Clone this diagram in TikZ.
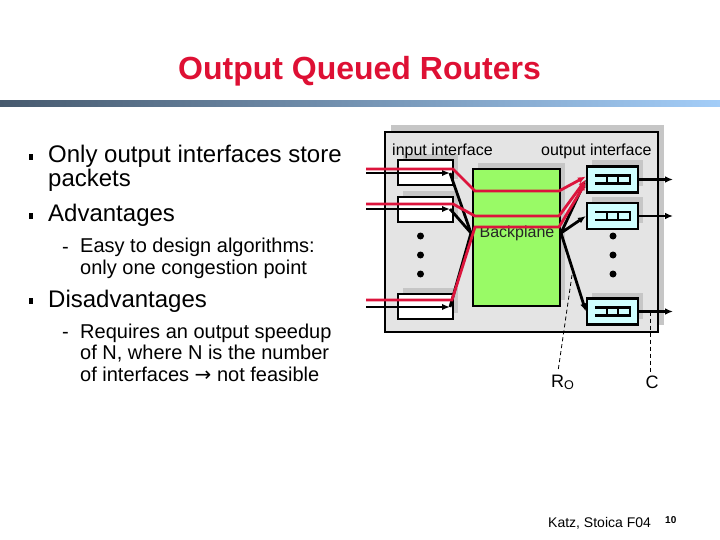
\documentclass[tikz,border=0pt]{standalone}
\usepackage{fontspec}
\setmainfont{Liberation Sans}
\newfontfamily\arrowfont{DejaVu Sans}
\usepackage{xcolor}
\usetikzlibrary{arrows.meta,positioning,calc,shadows}
\definecolor{titlered}{RGB}{222,16,52}
\definecolor{barleft}{RGB}{71,90,110}
\definecolor{barright}{RGB}{163,205,248}
\definecolor{chassis}{RGB}{228,228,228}
\definecolor{shadowgrey}{RGB}{198,198,198}
\definecolor{bpgreen}{RGB}{153,250,102}
\definecolor{qcyan}{RGB}{208,255,255}
\definecolor{pathred}{RGB}{220,20,60}
\tikzset{
  ttl/.style       = {font=\fontsize{32}{36}\selectfont\bfseries, text=titlered, inner sep=0pt, anchor=base},
  lvlone/.style    = {font=\fontsize{24}{24}\selectfont, inner sep=0pt, anchor=base west, align=left},
  lvltwo/.style    = {font=\fontsize{20}{21.5}\selectfont, inner sep=0pt, anchor=base west, align=left},
  lbl/.style       = {font=\fontsize{16}{18}\selectfont, inner sep=0pt, anchor=base west},
  bsq/.style       = {fill, rectangle, inner sep=0pt, minimum width=4.5pt, minimum height=6.5pt},
  boxshadow/.style = {drop shadow={shadow xshift=5pt, shadow yshift=6pt, fill=shadowgrey, opacity=1}},
  inbox/.style     = {draw, line width=2pt, fill=white, minimum width=55pt, minimum height=25pt,
                      inner sep=0pt, boxshadow},
  outbox/.style    = {draw, line width=2.2pt, fill=qcyan, minimum width=51pt, minimum height=26pt,
                      inner sep=0pt, boxshadow},
  dot/.style       = {fill, circle, inner sep=0pt, minimum size=7pt},
  sig/.style       = {-{Latex[length=8pt,width=6.5pt]}, line width=2.4pt},
  redsig/.style    = {sig, draw=pathred, line width=2.8pt},
  fan/.style       = {line width=2.8pt},
  lead/.style      = {dash pattern=on 4pt off 3pt, line width=0.8pt},
  qline/.style     = {line width=2.8pt},
}
% queue drawn inside an output interface
\newcommand{\outq}[1]{%
  \draw[qline] ($(#1)+(-17.5,-4)$) -- ++(35,0) -- ++(0,8) -- ++(-35,0);
  \draw[qline] ($(#1)+(-5.5,-4)$) -- ++(0,8);
  \draw[qline] ($(#1)+(5.5,-4)$) -- ++(0,8);}

\begin{document}
\begin{tikzpicture}[x=1pt,y=-1pt]
\useasboundingbox (0,0) rectangle (720,540);
% ---- title and bar ----
\node[ttl] (title) at (359.5,80) {Output Queued Routers};
\shade[left color=barleft, right color=barright] (0,101) rectangle (720,107);

% ---- bullet text (multi-line nodes sit on their last baseline) ----
\node[bsq] (b1) at (31,157) {};
\node[lvlone] (t1) at (48,187) {Only output interfaces store\\packets};
\node[bsq] (b2) at (31,216) {};
\node[lvlone] (t3) at (48,222) {Advantages};
\node[lvltwo] (d1) at (62,253) {-};
\node[lvltwo] (t4) at (80,274) {Easy to design algorithms:\\only one congestion point};
\node[bsq] (b3) at (31,301) {};
\node[lvlone] (t6) at (48,307) {Disadvantages};
\node[lvltwo] (d2) at (62,338) {-};
\node[lvltwo] (t7) at (80,381) {Requires an output speedup\\of N, where N is the number\\of interfaces {\arrowfont →} not feasible};

% ---- router ----
\node[draw, line width=2pt, fill=chassis, minimum width=273pt, minimum height=200pt,
      drop shadow={shadow xshift=6pt, shadow yshift=7pt, fill=shadowgrey, opacity=1}]
      (router) at (521.5,232) {};

\node[inbox] (in1) at (425.5,173) {};
\node[inbox] (in2) at (425.5,209.5) {};
\node[inbox] (in3) at (425.5,306) {};
\node[draw, line width=2pt, fill=bpgreen, minimum width=87pt, minimum height=137pt,
      boxshadow] (bp) at (516.5,237.5) {};
\node[font=\fontsize{16}{18}\selectfont, text=black!85] (bplbl) at (517,233) {Backplane};
\node[outbox] (out1) at (612.5,179.5) {};
\node[outbox] (out2) at (612.5,216) {};
\node[outbox] (out3) at (612.5,311.5) {};
\outq{out1}
\outq{out2}
\outq{out3}
\node[lbl] (inlbl) at (392,156) {input interface};
\node[lbl] (outlbl) at (541,156) {output interface};

\foreach \y in {236,255,274} {
  \node[dot] at (420.5,\y) {};
  \node[dot] at (613,\y) {};
}

% ---- black traffic ----
\coordinate (src1) at (366,173);
\coordinate (src2) at (366,209);
\coordinate (src3) at (366,307);
\coordinate (hit1) at (450,173);
\coordinate (hit2) at (450,209);
\coordinate (hit3) at (450,307);
\coordinate (bpin) at (471,233);
\coordinate (bpout) at (561,233);
\draw[sig] (src1) -- (hit1);
\draw[sig] (src2) -- (hit2);
\draw[sig] (src3) -- (hit3);
\draw[fan] (hit1) -- (bpin);
\draw[fan] (hit2) -- (bpin);
\draw[fan] (hit3) -- (bpin);
\draw[sig, line width=2.8pt] (bpout) -- (out1.west);
\draw[sig, line width=2.8pt] (bpout) -- (out2.west);
\draw[sig, line width=2.8pt] (bpout) -- (out3.west);
\draw[sig] (out1.east) -- ++(34,0) coordinate (sink1);
\draw[sig] (out2.east) -- ++(34,0) coordinate (sink2);
\draw[sig] (out3.east) -- ++(34,0) coordinate (sink3);

% ---- red traffic ----
\draw[redsig] (366,169) -- (453,169) -- (475,191) -- (559,191) -- ($(out1.west)+(0,-3)$);
\draw[redsig] (366,204) -- (453,204) -- (475,216) -- (559,216) -- (out1.west);
\draw[redsig] (366,300) -- (452,300) -- (475,227) -- (559,227) -- ($(out1.west)+(0,3)$);

% ---- rates ----
\node[font=\fontsize{18}{20}\selectfont, inner sep=0pt, anchor=base west] (ro) at (551,387) {R\textsubscript{O}};
\node[font=\fontsize{18}{20}\selectfont, inner sep=0pt, anchor=base] (c) at (652,388) {C};
\coordinate (rotap) at (573,268);
\draw[lead] (rotap) -- ($(ro.north west)+(7,-3)$);
\draw[lead] (650,311.5) -- ($(c.north)+(-2,-3)$);

% ---- footer ----
\node[font=\fontsize{14}{16}\selectfont, inner sep=0pt, anchor=base west] (foot) at (548,527) {Katz, Stoica F04};
\node[font=\fontsize{10}{12}\selectfont\bfseries, inner sep=0pt, anchor=base west] (pg) at (665,523) {10};
\end{tikzpicture}
\end{document}
